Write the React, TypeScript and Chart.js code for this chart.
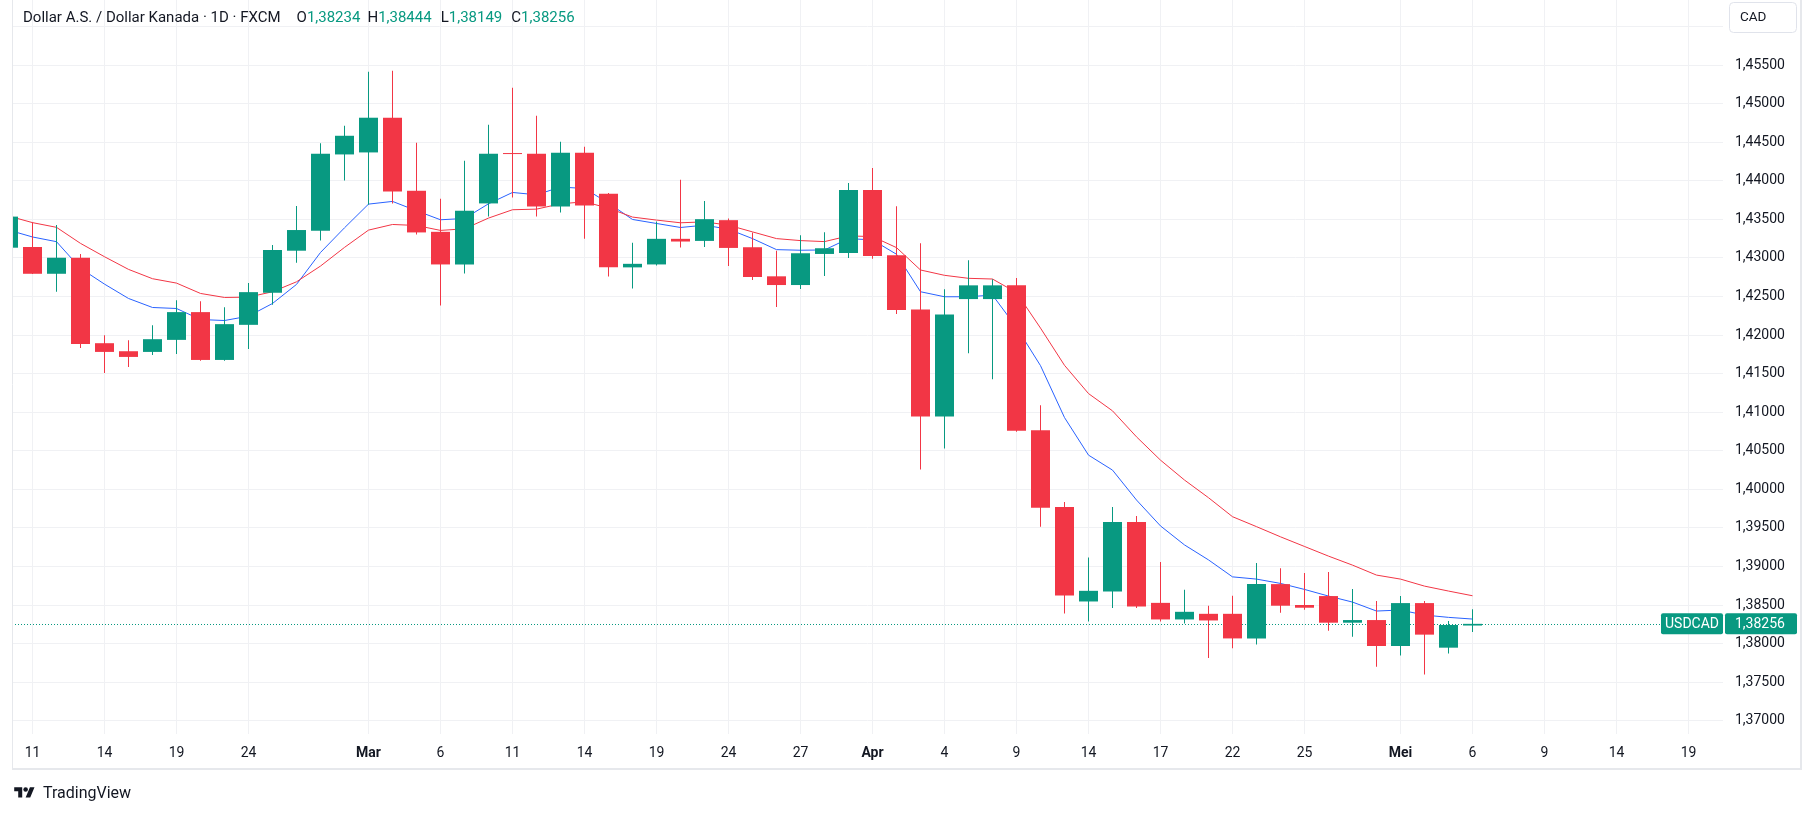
import React, { useEffect, useRef } from 'react';
import { Chart, registerables } from 'chart.js';

Chart.register(...registerables);

// ---- data ----
const dates = [
  '2025-02-10', '2025-02-11', '2025-02-12', '2025-02-13', '2025-02-14', '2025-02-17', '2025-02-18', '2025-02-19',
  '2025-02-20', '2025-02-21', '2025-02-24', '2025-02-25', '2025-02-26', '2025-02-27', '2025-02-28', '2025-03-03',
  '2025-03-04', '2025-03-05', '2025-03-06', '2025-03-07', '2025-03-10', '2025-03-11', '2025-03-12', '2025-03-13',
  '2025-03-14', '2025-03-17', '2025-03-18', '2025-03-19', '2025-03-20', '2025-03-21', '2025-03-24', '2025-03-25',
  '2025-03-26', '2025-03-27', '2025-03-28', '2025-03-31', '2025-04-01', '2025-04-02', '2025-04-03', '2025-04-04',
  '2025-04-07', '2025-04-08', '2025-04-09', '2025-04-10', '2025-04-11', '2025-04-14', '2025-04-15', '2025-04-16',
  '2025-04-17', '2025-04-18', '2025-04-21', '2025-04-22', '2025-04-23', '2025-04-24', '2025-04-25', '2025-04-28',
  '2025-04-29', '2025-04-30', '2025-05-01', '2025-05-02', '2025-05-05', '2025-05-06',
];

const opens = [
  1.43132, 1.43141, 1.42794, 1.43002, 1.41894, 1.4179, 1.41781, 1.41937,
  1.42297, 1.41677, 1.42132, 1.42548, 1.43093, 1.43353, 1.44341, 1.44367,
  1.44817, 1.4387, 1.43338, 1.42915, 1.43706, 1.44352, 1.4435, 1.43666,
  1.44363, 1.43831, 1.42877, 1.42915, 1.43247, 1.4322, 1.43489, 1.43138,
  1.42761, 1.42648, 1.43051, 1.43064, 1.43879, 1.43034, 1.42332, 1.40945,
  1.42466, 1.42466, 1.42644, 1.40767, 1.3977, 1.38546, 1.38675, 1.39576,
  1.38528, 1.38313, 1.38386, 1.38386, 1.38067, 1.38771, 1.385, 1.38616,
  1.38271, 1.38305, 1.37969, 1.38525, 1.37947, 1.38234,
];
const highs = [
  1.4362, 1.43461, 1.43426, 1.4305, 1.41998, 1.41933, 1.42128, 1.42452,
  1.42439, 1.42361, 1.42673, 1.43167, 1.43673, 1.44487, 1.44713, 1.45414,
  1.45426, 1.44493, 1.43766, 1.44259, 1.44726, 1.45206, 1.44843, 1.44506,
  1.4444, 1.4384, 1.43196, 1.43472, 1.44013, 1.43736, 1.4351, 1.43328,
  1.43092, 1.43294, 1.43333, 1.4397, 1.44165, 1.4367, 1.4319, 1.42592,
  1.42969, 1.42722, 1.42739, 1.4109, 1.39835, 1.39115, 1.3977, 1.39654,
  1.39059, 1.38697, 1.38489, 1.38619, 1.39046, 1.38978, 1.38914, 1.38927,
  1.38707, 1.38551, 1.38616, 1.38551, 1.38292, 1.38444,
];
const lows = [
  1.4305, 1.4279, 1.42561, 1.41833, 1.41509, 1.41587, 1.41742, 1.41755,
  1.41665, 1.41665, 1.4182, 1.42392, 1.42937, 1.43224, 1.44004, 1.43689,
  1.43706, 1.43303, 1.42383, 1.42798, 1.43537, 1.43784, 1.43537, 1.43588,
  1.43249, 1.42759, 1.42603, 1.42902, 1.43135, 1.43142, 1.42895, 1.42713,
  1.42362, 1.42596, 1.42765, 1.42999, 1.4299, 1.42271, 1.40256, 1.40529,
  1.41764, 1.41426, 1.40745, 1.39516, 1.3839, 1.38287, 1.3846, 1.3846,
  1.38287, 1.3826, 1.37813, 1.37938, 1.37989, 1.384, 1.38439, 1.38167,
  1.3809, 1.37701, 1.37844, 1.37598, 1.3787, 1.38149,
];
const closes = [
  1.43535, 1.42794, 1.43002, 1.41885, 1.41781, 1.41716, 1.41946, 1.42297,
  1.41677, 1.42141, 1.42556, 1.43102, 1.43361, 1.44349, 1.44583, 1.44817,
  1.43861, 1.4333, 1.42915, 1.43611, 1.4435, 1.44346, 1.43666, 1.44363,
  1.43679, 1.42877, 1.42923, 1.43247, 1.43212, 1.43502, 1.43129, 1.42752,
  1.42648, 1.4306, 1.43125, 1.43879, 1.43025, 1.42323, 1.40945, 1.42267,
  1.42644, 1.42644, 1.40758, 1.39762, 1.38623, 1.38684, 1.39576, 1.3848,
  1.38313, 1.38412, 1.383, 1.38067, 1.38774, 1.38491, 1.38465, 1.38271,
  1.38305, 1.37969, 1.38525, 1.38116, 1.38241, 1.38256,
];

// blue moving average (fast)
const maFast = [
  1.43361, 1.43271, 1.4321, 1.42864, 1.4266, 1.42474, 1.42357, 1.42344,
  1.42201, 1.42188, 1.42245, 1.42409, 1.42656, 1.4307, 1.4339, 1.43697,
  1.43732, 1.43611, 1.43494, 1.43511, 1.43701, 1.43848, 1.43818, 1.43918,
  1.439, 1.4371, 1.43498, 1.43446, 1.43394, 1.43424, 1.43372, 1.4325,
  1.43107, 1.43099, 1.43103, 1.4325, 1.43233, 1.43047, 1.42561, 1.42496,
  1.42496, 1.42518, 1.42099, 1.41603, 1.4093, 1.40443, 1.40249, 1.39861,
  1.39525, 1.39279, 1.39085, 1.38865, 1.38836, 1.3878, 1.38702, 1.38616,
  1.38538, 1.38422, 1.38435, 1.3837, 1.3834, 1.38318,
];
// red moving average (slow)
const maSlow = [
  1.43543, 1.43457, 1.43396, 1.43188, 1.43015, 1.42851, 1.4273, 1.42673,
  1.42539, 1.42487, 1.42491, 1.42561, 1.4269, 1.42894, 1.43136, 1.4336,
  1.43433, 1.4342, 1.43356, 1.43377, 1.43516, 1.43624, 1.43632, 1.43701,
  1.43727, 1.43645, 1.43529, 1.4349, 1.43455, 1.43467, 1.43424, 1.43337,
  1.4325, 1.43224, 1.43211, 1.43285, 1.43276, 1.43133, 1.42843, 1.42774,
  1.42735, 1.42726, 1.4255, 1.4209, 1.41607, 1.41241, 1.41017, 1.4068,
  1.40378, 1.4012, 1.39891, 1.39645, 1.39516, 1.39384, 1.39259, 1.39134,
  1.39017, 1.38888, 1.38836, 1.38745, 1.38681, 1.3862,
];

// time-axis ticks (bar index → label)
const tickIndex = [1, 4, 7, 10, 15, 18, 21, 24, 27, 30, 33, 36, 39, 42, 45, 48, 51, 54, 58, 61, 64, 67, 70];
const tickLabels = ['11', '14', '19', '24', 'Mar', '6', '11', '14', '19', '24', '27', 'Apr', '4', '9', '14', '17', '22', '25', 'Mei', '6', '9', '14', '19'];
const monthLabels = ['Mar', 'Apr', 'Mei'];

// price-axis ticks
const priceTicks = [
  1.37, 1.375, 1.38, 1.385, 1.39, 1.395, 1.4, 1.405, 1.41, 1.415,
  1.42, 1.425, 1.43, 1.435, 1.44, 1.445, 1.45, 1.455, 1.46,
];

const symbol = 'USDCAD';
const currency = 'CAD';

// ---- styles ----
const UP = '#089981';
const DOWN = '#F23645';
const BLUE = '#2962FF';
const TEXT = '#131722';
const GRID = '#f0f1f4';
const FRAME = '#e6e8ec';
const FONT = 'Roboto, "Noto Sans", sans-serif';

const fmt = (v: number) => v.toFixed(5).replace('.', ',');

export default function App() {
  const canvasRef = useRef<HTMLCanvasElement | null>(null);

  useEffect(() => {
    const canvas = canvasRef.current;
    if (!canvas) return;
    const colors = closes.map((c, i) => (c >= opens[i] ? UP : DOWN));
    const last = closes.length - 1;

    const overlay = {
      id: 'overlay',
      beforeDatasetsDraw(chart: any) {
        const { ctx, chartArea, scales } = chart;
        const y = Math.round(scales.y.getPixelForValue(closes[last])) + 0.5;
        ctx.save();
        ctx.strokeStyle = UP;
        ctx.lineWidth = 1;
        ctx.setLineDash([1, 2]);
        ctx.beginPath();
        ctx.moveTo(chartArea.left, y);
        ctx.lineTo(chartArea.right - 62, y);
        ctx.stroke();
        ctx.restore();
      },
      afterDraw(chart: any) {
        const { ctx, chartArea, scales } = chart;
        ctx.save();
        // frame
        ctx.strokeStyle = FRAME;
        ctx.lineWidth = 1;
        ctx.beginPath();
        ctx.moveTo(chartArea.left + 0.5, 0);
        ctx.lineTo(chartArea.left + 0.5, 769);
        ctx.stroke();
        ctx.lineWidth = 2;
        ctx.beginPath();
        ctx.moveTo(chartArea.left, 769);
        ctx.lineTo(1802, 769);
        ctx.moveTo(1801, 0);
        ctx.lineTo(1801, 770);
        ctx.stroke();

        // currency box
        ctx.fillStyle = '#ffffff';
        ctx.strokeStyle = '#e0e3eb';
        ctx.lineWidth = 1;
        ctx.beginPath();
        ctx.roundRect(chartArea.right + 6.5, 2.5, 67, 30, 4);
        ctx.fill();
        ctx.stroke();
        ctx.fillStyle = TEXT;
        ctx.font = `13.5px ${FONT}`;
        ctx.textBaseline = 'middle';
        ctx.textAlign = 'left';
        ctx.fillText(currency, chartArea.right + 17, 18);

        // last price labels
        const y = scales.y.getPixelForValue(closes[last]);
        ctx.fillStyle = UP;
        ctx.beginPath();
        ctx.roundRect(chartArea.right - 62, y - 10.5, 62, 21, 2);
        ctx.fill();
        ctx.beginPath();
        ctx.roundRect(chartArea.right + 2, y - 10.5, 72, 21, 2);
        ctx.fill();
        ctx.fillStyle = '#ffffff';
        ctx.font = `14px ${FONT}`;
        ctx.textAlign = 'center';
        ctx.fillText(symbol, chartArea.right - 31, y + 0.5);
        ctx.textAlign = 'left';
        ctx.fillText(fmt(closes[last]), chartArea.right + 12, y + 0.5);
        ctx.restore();
      },
    };

    const chart = new Chart(canvas, {
      type: 'bar',
      data: {
        datasets: [
          {
            type: 'line',
            label: 'MA fast',
            data: maFast.map((v, i) => ({ x: i, y: v })),
            borderColor: BLUE,
            borderWidth: 1,
            pointRadius: 0,
            tension: 0,
            fill: false,
            order: 4,
          } as any,
          {
            type: 'line',
            label: 'MA slow',
            data: maSlow.map((v, i) => ({ x: i, y: v })),
            borderColor: DOWN,
            borderWidth: 1,
            pointRadius: 0,
            tension: 0,
            fill: false,
            order: 3,
          } as any,
          {
            type: 'bar',
            label: 'wick',
            data: lows.map((l, i) => ({ x: i, y: [l, highs[i]] })),
            backgroundColor: colors,
            barThickness: 1,
            grouped: false,
            inflateAmount: 0,
            borderWidth: 0,
            order: 2,
          } as any,
          {
            type: 'bar',
            label: 'body',
            data: opens.map((o, i) => ({ x: i, y: [o, closes[i]] })),
            backgroundColor: colors,
            barThickness: 19,
            grouped: false,
            inflateAmount: 0,
            borderWidth: 0,
            minBarLength: 1,
            order: 1,
          } as any,
        ],
      },
      options: {
        responsive: false,
        animation: false,
        events: [],
        layout: { padding: { left: 12, right: 12, top: 0, bottom: 45 } },
        plugins: { legend: { display: false }, tooltip: { enabled: false }, title: { display: false } },
        scales: {
          x: {
            type: 'linear',
            min: 0.14583,
            max: 71.4375,
            offset: false,
            bounds: 'data',
            grid: { color: GRID, drawTicks: false, offset: false },
            border: { display: false },
            afterBuildTicks: (s: any) => {
              s.ticks = tickIndex.map((v) => ({ value: v }));
            },
            afterFit: (s: any) => {
              s.height = 35;
              s.paddingLeft = 0;
              s.paddingRight = 0;
            },
            ticks: {
              autoSkip: false,
              maxRotation: 0,
              padding: 11,
              color: TEXT,
              font: (c: any) => {
                const k = c.tick ? tickIndex.indexOf(c.tick.value) : -1;
                const lab = k >= 0 ? tickLabels[k] : '';
                return { family: FONT, size: 14, weight: monthLabels.includes(lab) ? 'bold' : 'normal' };
              },
              callback: (v: any) => {
                const k = tickIndex.indexOf(Number(v));
                return k >= 0 ? tickLabels[k] : '';
              },
            },
          } as any,
          y: {
            type: 'linear',
            position: 'right',
            min: 1.36828,
            max: 1.46343,
            stacked: false,
            bounds: 'data',
            grid: { color: GRID, drawTicks: false },
            border: { display: false },
            afterBuildTicks: (s: any) => {
              s.ticks = priceTicks.map((v) => ({ value: v }));
            },
            afterFit: (s: any) => {
              s.width = 78;
              s.paddingTop = 0;
              s.paddingBottom = 0;
            },
            ticks: {
              padding: 12,
              color: TEXT,
              font: { family: FONT, size: 14 },
              callback: (v: any) => (Number(v) > 1.4599 ? '' : fmt(Number(v))),
            },
          } as any,
        },
      } as any,
      plugins: [overlay],
    });
    return () => chart.destroy();
  }, []);

  return (
    <div style={{ position: 'absolute', left: 0, top: 0, width: 1813, height: 814, background: '#ffffff', overflow: 'hidden' }}>
      <canvas ref={canvasRef} width={1813} height={814} style={{ position: 'absolute', left: 0, top: 0 }} />
      <div
        style={{
          position: 'absolute', left: 23, top: 6, height: 22, lineHeight: '22px',
          fontFamily: FONT, fontSize: 15, color: TEXT, whiteSpace: 'pre',
        }}
      >
        <span>Dollar A.S. / Dollar Kanada · 1D · FXCM</span>
        <span style={{ marginLeft: 16 }}>O</span><span style={{ color: UP }}>{fmt(opens[opens.length - 1])}</span>
        <span style={{ marginLeft: 7 }}>H</span><span style={{ color: UP }}>{fmt(highs[highs.length - 1])}</span>
        <span style={{ marginLeft: 9 }}>L</span><span style={{ color: UP }}>{fmt(lows[lows.length - 1])}</span>
        <span style={{ marginLeft: 9 }}>C</span><span style={{ color: UP }}>{fmt(closes[closes.length - 1])}</span>
      </div>
      <div style={{ position: 'absolute', left: 13, top: 784, height: 18, display: 'flex', alignItems: 'center' }}>
        <svg width="23" height="16" viewBox="0 0 36 28">
          <path d="M14 22H7V11H0V4h14v18zM28 22h-8l7.5-18h8L28 22z" fill={TEXT} />
          <circle cx="20" cy="8" r="4" fill={TEXT} />
        </svg>
        <span style={{ marginLeft: 7, fontFamily: FONT, fontSize: 16, color: TEXT, lineHeight: '18px' }}>TradingView</span>
      </div>
    </div>
  );
}
